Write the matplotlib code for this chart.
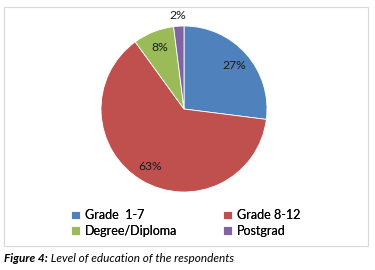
import matplotlib
matplotlib.use("Agg")
import matplotlib.pyplot as plt
from matplotlib.patches import Rectangle
import numpy as np

categories = ["Grade  1-7", "Grade 8-12", "Degree/Diploma", "Postgrad"]
values = [27, 63, 8, 2]
colors = ["#4F81BD", "#C0504D", "#9BBB59", "#8064A2"]
caption_bold = "Figure 4:"
caption_rest = " Level of education of the respondents"

plt.rcParams['font.family'] = ['Lato', 'DejaVu Sans']

W, H = 375, 270
fig = plt.figure(figsize=(W / 100, H / 100), dpi=100)
fig.patch.set_facecolor("white")

# border box
fig.add_artist(Rectangle((4 / W, 1 - 246 / H), 364 / W, 239 / H, transform=fig.transFigure,
                         fill=False, edgecolor="#D9D9D9", linewidth=0.8))

cx, cy, r = 184, 109, 83
ax = fig.add_axes([(cx - r) / W, 1 - (cy + r) / H, 2 * r / W, 2 * r / H])
wedges, _ = ax.pie(values, colors=colors, startangle=90, counterclock=False, radius=1,
                   wedgeprops=dict(linewidth=0.6, edgecolor="white"))
ax.set_xlim(-1, 1)
ax.set_ylim(-1, 1)
ax.set_aspect("auto")

total = sum(values)
cum = 0
for v, w in zip(values, wedges):
    mid = 90 - (cum + v / 2) / total * 360
    cum += v
    d = 0.8 if v / total > 0.05 else 1.13
    ax.text(d * np.cos(np.radians(mid)), d * np.sin(np.radians(mid)), f"{v}%",
            ha="center", va="center", fontsize=8.7, color="#1a1a1a", clip_on=False)

# row-wise order like the reference: two single-column legends side by side
leg_x0, leg_x1 = 65, 217
h1 = [wedges[i] for i in (0, 2)]
l1 = [categories[i] for i in (0, 2)]
h2 = [wedges[i] for i in (1, 3)]
l2 = [categories[i] for i in (1, 3)]
for hx, hh, ll in ((leg_x0, h1, l1), (leg_x1, h2, l2)):
    lg = fig.legend(hh, ll, loc="upper left", bbox_to_anchor=(hx / W, 1 - 203 / H),
                    ncol=1, frameon=False, fontsize=9, handlelength=0.7, handleheight=0.7,
                    handletextpad=0.4, labelspacing=0.3, borderpad=0)
    fig.add_artist(lg)

t1 = fig.text(4 / W, 1 - 258 / H, caption_bold, fontsize=8.5, fontweight="bold", fontstyle="italic",
              va="center", ha="left")
fig.canvas.draw()
bb = t1.get_window_extent()
fig.text(bb.x1 / W, 1 - 258 / H, caption_rest, fontsize=8.5, fontstyle="italic", va="center", ha="left")

fig.savefig("out.png", dpi=100)
